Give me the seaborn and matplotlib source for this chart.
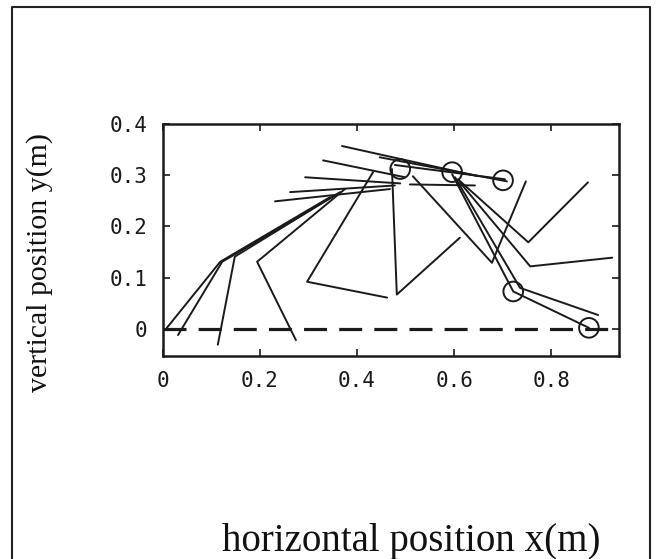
import numpy as np
import pandas as pd
import matplotlib
matplotlib.use("Agg")
import matplotlib.pyplot as plt
import seaborn as sns
from matplotlib.lines import Line2D

sns.set_theme(style="white")

# ---- data (metres) ----
# leg poses: foot -> knee -> hip
pose1_x = [0.008, 0.118, 0.344]; pose1_y = [0.002, 0.131, 0.257]
pose2_x = [0.031, 0.122, 0.355]; pose2_y = [-0.012, 0.131, 0.261]
pose3_x = [0.113, 0.148, 0.365]; pose3_y = [-0.031, 0.141, 0.267]
pose4_x = [0.274, 0.194, 0.375]; pose4_y = [-0.022, 0.131, 0.273]
pose5_x = [0.462, 0.297, 0.433]; pose5_y = [0.061, 0.092, 0.306]
pose6_x = [0.612, 0.482, 0.472]; pose6_y = [0.178, 0.067, 0.312]
pose7_x = [0.748, 0.678, 0.515]; pose7_y = [0.288, 0.129, 0.298]
pose8_x = [0.876, 0.753, 0.608]; pose8_y = [0.286, 0.169, 0.292]
pose9_x = [0.926, 0.757, 0.612]; pose9_y = [0.139, 0.122, 0.286]
pose10_x = [0.897, 0.736, 0.602]; pose10_y = [0.027, 0.080, 0.296]
pose11_x = [0.878, 0.722, 0.596]; pose11_y = [0.002, 0.073, 0.302]
# body segments
body1_x = [0.231, 0.468]; body1_y = [0.249, 0.273]
body2_x = [0.262, 0.478]; body2_y = [0.267, 0.280]
body3_x = [0.293, 0.489]; body3_y = [0.296, 0.284]
body4_x = [0.330, 0.499]; body4_y = [0.329, 0.296]
body5_x = [0.369, 0.650]; body5_y = [0.357, 0.298]
body6_x = [0.447, 0.709]; body6_y = [0.335, 0.288]
body7_x = [0.478, 0.705]; body7_y = [0.320, 0.292]
body8_x = [0.509, 0.643]; body8_y = [0.282, 0.280]
# marked points (circles)
mark_x = [0.489, 0.596, 0.701, 0.722, 0.878]
mark_y = [0.312, 0.306, 0.290, 0.073, 0.002]
# ground line
ground_x = [0.0, 0.94]
ground_y = [0.0, 0.0]

xticks = [0, 0.2, 0.4, 0.6, 0.8]
xticklabels = ["0", "0.2", "0.4", "0.6", "0.8"]
yticks = [0, 0.1, 0.2, 0.3, 0.4]
yticklabels = ["0", "0.1", "0.2", "0.3", "0.4"]

polylines = [
    (pose1_x, pose1_y), (pose2_x, pose2_y), (pose3_x, pose3_y), (pose4_x, pose4_y),
    (pose5_x, pose5_y), (pose6_x, pose6_y), (pose7_x, pose7_y), (pose8_x, pose8_y),
    (pose9_x, pose9_y), (pose10_x, pose10_y), (pose11_x, pose11_y),
    (body1_x, body1_y), (body2_x, body2_y), (body3_x, body3_y), (body4_x, body4_y),
    (body5_x, body5_y), (body6_x, body6_y), (body7_x, body7_y), (body8_x, body8_y),
]
rows = []
for i, (xs, ys) in enumerate(polylines):
    for k, (xx, yy) in enumerate(zip(xs, ys)):
        rows.append({"seg": i, "order": k, "x": xx, "y": yy})
df = pd.DataFrame(rows)

fig = plt.figure(figsize=(6.56, 5.59), dpi=100)
ax = fig.add_axes([163/656, 1-356/559, (619-163)/656, (356-124)/559])

sns.lineplot(data=df, x="x", y="y", units="seg", estimator=None, sort=False,
             color="#1a1a1a", linewidth=1.4, ax=ax, legend=False)
sns.lineplot(x=ground_x, y=ground_y, color="#1a1a1a", linewidth=2.3,
             dashes=False, ax=ax, legend=False)
ax.lines[-1].set_dashes([7.2, 3.8])
ax.lines[-1].set_dash_capstyle("butt")
sns.scatterplot(x=mark_x, y=mark_y, marker="o", s=200, facecolors="none",
                edgecolors="#1a1a1a", linewidth=1.4, ax=ax, legend=False, zorder=5)

ax.set_xlim(0, 0.94)
ax.set_ylim(-0.053, 0.4)
ax.set_xticks(xticks)
ax.set_xticklabels(xticklabels, family="DejaVu Sans Mono", fontsize=15)
ax.set_yticks(yticks)
ax.set_yticklabels(yticklabels, family="DejaVu Sans Mono", fontsize=15)
ax.tick_params(direction="in", length=5, width=1.2, top=True, right=True,
               bottom=True, left=True, colors="#1a1a1a", pad=11)
for sp in ax.spines.values():
    sp.set_linewidth(1.8)
    sp.set_color("#1a1a1a")
ax.set_xlabel("")
ax.set_ylabel("")

fig.text(40/656, 1-262/559, "vertical position y(m)", rotation=90,
         ha="center", va="center", family="Liberation Serif", fontsize=21.5,
         color="#111111")
fig.text(411/656, 1-542/559, "horizontal position x(m)",
         ha="center", va="center", family="Liberation Serif", fontsize=28,
         color="#111111")

# outer frame (left, top, right; open at the bottom)
frame = Line2D([12/656, 12/656, 650/656, 650/656], [0, 1-7/559, 1-7/559, 0],
               transform=fig.transFigure, color="#222222", linewidth=1.5)
fig.add_artist(frame)

fig.savefig("out.png", dpi=100)
